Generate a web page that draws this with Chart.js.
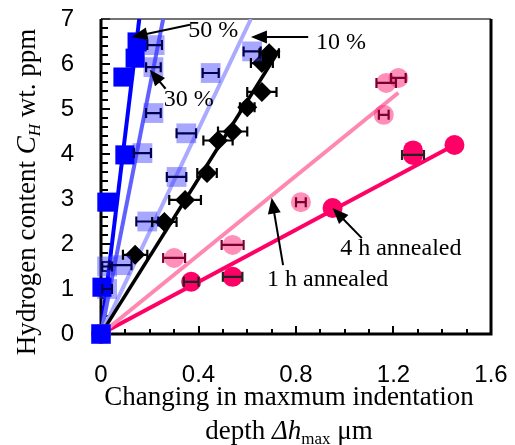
<!DOCTYPE html>
<html>
<head>
<meta charset="utf-8">
<script src="https://cdn.jsdelivr.net/npm/chart.js@4.4.1/dist/chart.umd.min.js"></script>
<style>
  html, body { margin: 0; padding: 0; background: #fff; }
</style>
</head>
<body>
<canvas id="chart-hydrogen" width="515" height="445"></canvas>
<script>
// 50 % (solid blue squares)
var x50 = [0, 0.004, 0.024, 0.098, 0.09, 0.14, 0.148];
var y50 = [0, 1.04, 2.93, 3.98, 5.71, 6.13, 6.49];

// 30 % (translucent squares)
var x30 = [0, 0.025, 0.025, 0.17, 0.215, 0.215, 0.22];
var y30 = [0, 1.0, 1.5, 4.02, 4.91, 5.93, 6.42];
var e30 = [0, 0.02, 0.02, 0.035, 0.03, 0.03, 0.03];

// 10 % (translucent squares)
var x10 = [0, 0.08, 0.19, 0.31, 0.35, 0.45, 0.62];
var y10 = [0, 1.53, 2.5, 3.49, 4.46, 5.8, 6.28];
var e10 = [0, 0.045, 0.045, 0.04, 0.04, 0.033, 0.035];

// uncharged (black diamonds)
var xBlk = [0, 0.14, 0.26, 0.345, 0.435, 0.48, 0.54, 0.6, 0.66, 0.66, 0.69];
var yBlk = [0, 1.76, 2.49, 2.98, 3.58, 4.3, 4.5, 5.04, 5.38, 6.02, 6.24];
var eBlk = [0, 0.05, 0.05, 0.065, 0.04, 0.06, 0.06, 0.03, 0.06, 0.045, 0.04];

// 1 h annealed (light pink circles)
var x1h = [0, 0.3, 0.54, 0.82, 1.16, 1.17, 1.22];
var y1h = [0, 1.69, 1.98, 2.93, 4.87, 5.58, 5.69];
var e1h = [0, 0.045, 0.045, 0.02, 0.02, 0.04, 0.03];

// 4 h annealed (dark pink circles)
var x4h = [0, 0.37, 0.54, 0.95, 1.28, 1.28, 1.45];
var y4h = [0, 1.16, 1.27, 2.8, 3.98, 4.08, 4.2];
var e4h = [0, 0.03, 0.04, 0, 0.045, 0, 0];

// fitted lines through origin: end points
var fitEndX = [0.157, 0.255, 0.615, 0.73, 1.22, 1.45];
var fitEndY = [7, 7, 7, 6.3, 5.36, 4.2];

var xTicks = [0, 0.4, 0.8, 1.2, 1.6];
var yTicks = [0, 1, 2, 3, 4, 5, 6, 7];

var SERIF = "'Liberation Serif', 'Times New Roman', serif";
var SANS = "'Liberation Sans', Arial, sans-serif";

function pts(xs, ys) {
  return xs.map(function(x, i) { return { x: x, y: ys[i] }; });
}
function fit(i) {
  return [{ x: 0, y: 0 }, { x: fitEndX[i], y: fitEndY[i] }];
}
function lineSet(i, color, width) {
  return { data: fit(i), showLine: true, borderColor: color, borderWidth: width,
           pointRadius: 0, fill: false, order: 5 };
}

var errorBars = [
  { xs: x30, ys: y30, es: e30, color: '#000050' },
  { xs: x10, ys: y10, es: e10, color: '#000050' },
  { xs: xBlk, ys: yBlk, es: eBlk, color: '#000000' },
  { xs: x1h, ys: y1h, es: e1h, color: '#7a0030' },
  { xs: x4h, ys: y4h, es: e4h, color: '#222222' }
];

// labels with arrows, in data units
var notes = [
  { text: '50 %', tx: 0.46, ty: 6.73, ax: 0.365, ay: 6.87, hx: 0.125, hy: 6.6 },
  { text: '30 %', tx: 0.36, ty: 5.2, ax: 0.265, ay: 5.45, hx: 0.2, hy: 5.87 },
  { text: '10 %', tx: 0.985, ty: 6.47, ax: 0.85, ay: 6.6, hx: 0.615, hy: 6.6 },
  { text: '1 h annealed', tx: 0.93, ty: 1.2, ax: 0.747, ay: 1.53, hx: 0.7, hy: 3.03 },
  { text: '4 h annealed', tx: 1.23, ty: 1.89, ax: 1.07, ay: 2.13, hx: 0.95, hy: 2.8 }
];

function arrow(ctx, x1, y1, x2, y2) {
  var ang = Math.atan2(y2 - y1, x2 - x1), L = 16, W = 6.5;
  ctx.beginPath();
  ctx.moveTo(x1, y1);
  ctx.lineTo(x2 - Math.cos(ang) * L * 0.8, y2 - Math.sin(ang) * L * 0.8);
  ctx.stroke();
  ctx.beginPath();
  ctx.moveTo(x2, y2);
  ctx.lineTo(x2 - Math.cos(ang) * L - Math.sin(ang) * W, y2 - Math.sin(ang) * L + Math.cos(ang) * W);
  ctx.lineTo(x2 - Math.cos(ang) * L + Math.sin(ang) * W, y2 - Math.sin(ang) * L - Math.cos(ang) * W);
  ctx.closePath();
  ctx.fill();
}

function richText(ctx, parts, cx, by) {
  var w = 0;
  parts.forEach(function(p) { ctx.font = p.f; w += ctx.measureText(p.t).width; });
  var x = cx - w / 2;
  parts.forEach(function(p) {
    ctx.font = p.f;
    ctx.fillText(p.t, x, by + (p.dy || 0));
    x += ctx.measureText(p.t).width;
  });
}

var framePlugin = {
  id: 'frame',
  beforeDatasetsDraw: function(chart) {
    var ctx = chart.ctx, a = chart.chartArea;
    var xs = chart.scales.x, ys = chart.scales.y;
    ctx.save();
    ctx.strokeStyle = '#000';
    // ticks inside the frame
    ctx.lineWidth = 2;
    for (var v = 0; v <= 16; v++) {
      var px = Math.round(xs.getPixelForValue(v / 10));
      var len = v % 4 === 0 ? 8 : 5;
      ctx.beginPath(); ctx.moveTo(px, a.bottom); ctx.lineTo(px, a.bottom - len); ctx.stroke();
    }
    for (var k = 0; k <= 35; k++) {
      var py = Math.round(ys.getPixelForValue(k / 5));
      var l2 = k % 5 === 0 ? 9 : 7;
      ctx.beginPath(); ctx.moveTo(a.left, py); ctx.lineTo(a.left + l2, py); ctx.stroke();
    }
    ctx.lineWidth = 1.5;
    ctx.strokeStyle = '#444';
    ctx.beginPath(); ctx.moveTo(a.left, a.top); ctx.lineTo(a.right, a.top); ctx.stroke();
    ctx.strokeStyle = '#000';
    ctx.lineWidth = 3;
    ctx.beginPath();
    ctx.moveTo(a.left, a.top);
    ctx.lineTo(a.left, a.bottom);
    ctx.lineTo(a.right, a.bottom);
    ctx.lineTo(a.right, a.top);
    ctx.stroke();
    ctx.restore();
  },
  afterDatasetsDraw: function(chart) {
    var ctx = chart.ctx;
    var xs = chart.scales.x, ys = chart.scales.y;
    ctx.save();
    // horizontal error bars
    errorBars.forEach(function(s) {
      ctx.strokeStyle = s.color;
      ctx.lineWidth = 2.2;
      s.xs.forEach(function(x, i) {
        if (!s.es[i]) return;
        var p1 = xs.getPixelForValue(x - s.es[i]);
        var p2 = xs.getPixelForValue(x + s.es[i]);
        var py = ys.getPixelForValue(s.ys[i]);
        ctx.beginPath();
        ctx.moveTo(p1, py); ctx.lineTo(p2, py);
        ctx.moveTo(p1, py - 5); ctx.lineTo(p1, py + 5);
        ctx.moveTo(p2, py - 5); ctx.lineTo(p2, py + 5);
        ctx.stroke();
      });
    });
    // annotations
    ctx.fillStyle = '#000';
    ctx.strokeStyle = '#000';
    ctx.lineWidth = 2;
    ctx.font = '24px ' + SERIF;
    ctx.textAlign = 'center';
    ctx.textBaseline = 'middle';
    notes.forEach(function(n) {
      ctx.fillText(n.text, xs.getPixelForValue(n.tx), ys.getPixelForValue(n.ty));
      arrow(ctx, xs.getPixelForValue(n.ax), ys.getPixelForValue(n.ay),
            xs.getPixelForValue(n.hx), ys.getPixelForValue(n.hy));
    });
    // axis titles
    ctx.textAlign = 'left';
    ctx.textBaseline = 'alphabetic';
    var cxx = 289;
    richText(ctx, [{ t: 'Changing in maxmum indentation', f: '27px ' + SERIF }], cxx, 405);
    richText(ctx, [
      { t: 'depth ', f: '27px ' + SERIF },
      { t: '\u0394h', f: 'italic 27px ' + SERIF },
      { t: 'max', f: '17px ' + SERIF, dy: 5 },
      { t: ' \u03bcm', f: '27px ' + SERIF }
    ], cxx, 439);
    ctx.translate(35, 192);
    ctx.rotate(-Math.PI / 2);
    richText(ctx, [
      { t: 'Hydrogen content ', f: '27px ' + SERIF },
      { t: 'C', f: 'italic 27px ' + SERIF },
      { t: 'H', f: 'italic 17px ' + SERIF, dy: 5 },
      { t: ' wt. ppm', f: '27px ' + SERIF }
    ], 0, 0);
    ctx.restore();
  }
};

var chart = new Chart(document.getElementById('chart-hydrogen').getContext('2d'), {
  type: 'scatter',
  data: {
    datasets: [
      lineSet(4, '#ff88b2', 4),
      lineSet(5, '#ff0066', 4),
      lineSet(3, '#000000', 3.5),
      lineSet(2, '#aaaaff', 4),
      lineSet(1, '#6060ff', 4),
      lineSet(0, '#0000ff', 4),
      { data: pts(x1h, y1h), pointStyle: 'circle', pointRadius: 10, backgroundColor: 'rgba(255,50,125,0.55)',
        borderWidth: 0, clip: false, order: 4 },
      { data: pts(x4h, y4h), pointStyle: 'circle', pointRadius: 10, backgroundColor: '#ff0066',
        borderWidth: 0, clip: false, order: 4 },
      { data: pts(xBlk, yBlk), pointStyle: 'rectRot', pointRadius: 10, backgroundColor: '#000000',
        borderWidth: 0, clip: false, order: 3 },
      { data: pts(x10, y10), pointStyle: 'rect', pointRadius: 14, backgroundColor: 'rgba(60,60,255,0.45)',
        borderWidth: 0, clip: false, order: 2 },
      { data: pts(x30, y30), pointStyle: 'rect', pointRadius: 14, backgroundColor: 'rgba(60,60,255,0.45)',
        borderWidth: 0, clip: false, order: 2 },
      { data: pts(x50, y50), pointStyle: 'rect', pointRadius: 13.5, backgroundColor: '#0000ff',
        borderWidth: 0, clip: false, order: 1 }
    ]
  },
  options: {
    responsive: false,
    animation: false,
    events: [],
    layout: { padding: { left: 0, top: 19, right: 24, bottom: 0 } },
    plugins: { legend: { display: false }, tooltip: { enabled: false } },
    scales: {
      x: {
        type: 'linear', min: 0, max: 1.6,
        afterBuildTicks: function(s) { s.ticks = xTicks.map(function(v) { return { value: v }; }); },
        afterFit: function(s) { s.height = 111; s.paddingLeft = 0; s.paddingRight = 0; },
        grid: { display: false, drawTicks: false },
        border: { display: false },
        ticks: { padding: 27, color: '#000', font: { family: SANS, size: 24 },
                 callback: function(v) { return String(Math.round(v * 10) / 10); } }
      },
      y: {
        type: 'linear', min: 0, max: 7,
        afterBuildTicks: function(s) { s.ticks = yTicks.map(function(v) { return { value: v }; }); },
        afterFit: function(s) { s.width = 101; s.paddingTop = 0; s.paddingBottom = 0; },
        grid: { display: false, drawTicks: false },
        border: { display: false },
        ticks: { padding: 27, color: '#000', font: { family: SANS, size: 24 } }
      }
    }
  },
  plugins: [framePlugin]
});
</script>
</body>
</html>
